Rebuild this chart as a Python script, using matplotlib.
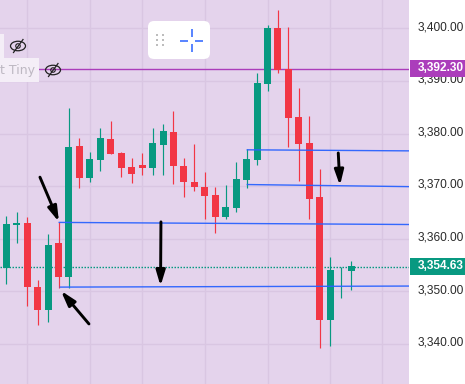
import matplotlib
matplotlib.use("Agg")
import matplotlib.pyplot as plt
from matplotlib.patches import FancyBboxPatch, Rectangle, Ellipse
from matplotlib.transforms import ScaledTranslation

opens = [3354.4,3362.6,3363.0,3350.8,3346.45,3359.2,3352.7,3377.6,3371.5,3375.0,3378.95,3376.3,3373.6,3374.0,3373.4,3377.8,
         3380.3,3373.8,3370.8,3369.8,3368.3,3364.1,3365.8,3371.2,3375.0,3389.4,3400.05,3392.3,3383.15,3378.2,3367.9,3344.55,3354.15,3353.85]
closes = [3362.8,3363.0,3350.8,3346.45,3358.8,3352.7,3377.4,3371.5,3375.15,3379.1,3376.1,3373.4,3372.3,3373.4,3378.2,3380.5,
          3373.8,3370.8,3369.8,3368.1,3364.1,3366.0,3371.35,3375.15,3389.6,3400.05,3392.1,3382.95,3378.0,3367.55,3344.55,3354.05,3354.15,3354.8]
highs = [3364.3,3365.1,3364.1,3352.15,3360.9,3363.2,3384.85,3379.1,3376.5,3381.05,3382.4,3376.5,3375.3,3376.3,3381.05,3381.8,
         3384.3,3375.3,3378.0,3372.7,3369.8,3370.2,3374.6,3377.05,3391.5,3400.6,3403.5,3400.25,3388.65,3383.3,3373.25,3356.5,3354.6,3355.75]
lows = [3351.4,3359.2,3347.2,3343.6,3344.2,3350.6,3350.6,3369.6,3370.8,3372.9,3376.1,3371.7,3370.6,3372.1,3372.1,3372.1,
        3370.4,3367.9,3369.1,3363.75,3361.1,3363.75,3365.1,3369.6,3374.0,3388.1,3391.5,3377.4,3371.0,3363.75,3339.2,3339.6,3348.7,3350.25]

price_ticks = [3340, 3350, 3360, 3370, 3380, 3390, 3400]
grid_candles = [2, 8, 13, 19, 25, 31, 36]

purple_price = 3392.30
last_price = 3354.63

# each level: first candle position, price at start, price at the right edge
level_starts = [5.0, 5.1, 23.0, 23.0]
level_left = [3363.1, 3350.8, 3376.9, 3370.3]
level_right = [3362.7, 3351.0, 3376.7, 3369.9]

arrow_from = [(3.22, 3371.7), (7.91, 3343.8), (14.8, 3363.2), (31.77, 3376.3)]
arrow_to = [(5.04, 3363.2), (5.23, 3350.1), (14.76, 3351.0), (31.93, 3370.1)]

W, H = 465, 384
BG = "#E4D3EC"
GRID = "#D9C6E2"
GREEN = "#089981"
RED = "#F23645"
BLUE = "#2962FF"
PURPLE = "#AB3DBB"
FONT = "Liberation Sans"
FS = 8.6

fig = plt.figure(figsize=(W / 100, H / 100), dpi=100, facecolor="white")
ax = fig.add_axes([0, 0, 409 / W, 1], facecolor=BG)
ax.set_xlim(-0.603, 38.54)
ax.set_ylim(3332.38, 3405.38)
for s in ax.spines.values():
    s.set_visible(False)

ax.set_xticks([])
ax.yaxis.tick_right()
ax.set_yticks(price_ticks)
ax.set_yticklabels([f"{p:,.2f}" for p in price_ticks], fontsize=FS, color="#2A2A2A", family=FONT)
ax.tick_params(axis="y", length=0, pad=6.5)
for tl in ax.get_yticklabels():
    tl.set_transform(tl.get_transform() + ScaledTranslation(0, 2 / 72, fig.dpi_scale_trans))
for p in price_ticks:
    ax.axhline(p, color=GRID, lw=1.0, zorder=1)
for c in grid_candles:
    ax.axvline(c, color=GRID, lw=1.0, zorder=1)

ax.axhline(purple_price, color=PURPLE, lw=1.0, zorder=2)
ax.plot([-0.603, 38.54], [last_price, last_price], color=GREEN, lw=1.0, ls=(0, (1.08, 1.08)),
        zorder=2, snap=True)

for i, (o, c, h, l) in enumerate(zip(opens, closes, highs, lows)):
    col = GREEN if c >= o else RED
    ax.vlines(i, l, h, color=col, lw=0.85, zorder=3)
    ax.bar(i, abs(c - o), bottom=min(o, c), width=0.67, color=col, lw=0, zorder=4)

for x0, a, b in zip(level_starts, level_left, level_right):
    ax.plot([x0, 38.54], [a, b], color=BLUE, lw=1.0, alpha=0.95, zorder=5, solid_capstyle="butt")

for p0, p1 in zip(arrow_from, arrow_to):
    ax.annotate("", xy=p1, xytext=p0, zorder=6,
                arrowprops=dict(arrowstyle="-|>,head_length=0.5,head_width=0.15", color="black",
                                lw=2.1, shrinkA=0, shrinkB=0, mutation_scale=18))

ov = fig.add_axes([0, 0, 1, 1], facecolor="none")
ov.set_xlim(0, W)
ov.set_ylim(H, 0)
ov.axis("off")
ov.set_zorder(ax.get_zorder() + 1)

# price tags
for top, col, txt in ((60, PURPLE, f"{purple_price:,.2f}"), (258, GREEN, f"{last_price:,.2f}")):
    ov.add_patch(Rectangle((410, top), 55, 17, color=col, lw=0))
    ov.text(418, top + 8.2, txt, color="white", fontsize=FS, family=FONT, fontweight="bold",
            va="center", ha="left", clip_on=True)

# legend remnants
ov.add_patch(Rectangle((0, 34), 4, 24, color="#F4EEF7", lw=0, zorder=2))
ov.add_patch(Rectangle((0, 58), 39, 24, color="#F4EEF7", lw=0, zorder=2))
ov.text(35, 70.5, "t Tiny", color="#BDB8C2", fontsize=9, family="DejaVu Sans",
        va="center", ha="right", zorder=3)

for cx, cy in ((18, 46), (53, 70)):
    ov.add_patch(Ellipse((cx, cy), 15, 9.5, fill=False, ec="#222222", lw=0.9, zorder=4))
    ov.add_patch(Ellipse((cx, cy), 4.5, 4.5, fill=False, ec="#222222", lw=0.8, zorder=4))
    ov.plot([cx - 4.5, cx + 5], [cy + 6.5, cy - 6.5], color="#222222", lw=0.9, zorder=4)

# toolbar
ov.add_patch(FancyBboxPatch((150, 23.5), 58, 35.5, boxstyle="round,pad=0,rounding_size=5",
                            fc="#BBA9C4", ec="none", alpha=0.55, zorder=5))
ov.add_patch(FancyBboxPatch((148, 21), 62, 38, boxstyle="round,pad=0,rounding_size=6",
                            fc="white", ec="none", zorder=6))
for dx in (157, 163):
    for dy in (35, 40, 45):
        ov.add_patch(Rectangle((dx - 1.2, dy - 1.2), 2.6, 2.6, color="#BDBDBD", lw=0, zorder=7))
for xs, ys in (([180, 188], [40.5, 40.5]), ([195, 203], [40.5, 40.5]),
               ([191.5, 191.5], [29, 37]), ([191.5, 191.5], [44, 52])):
    ov.plot(xs, ys, color=BLUE, lw=1.1, zorder=7, solid_capstyle="butt")

fig.savefig("out.png", dpi=100, facecolor="white")
